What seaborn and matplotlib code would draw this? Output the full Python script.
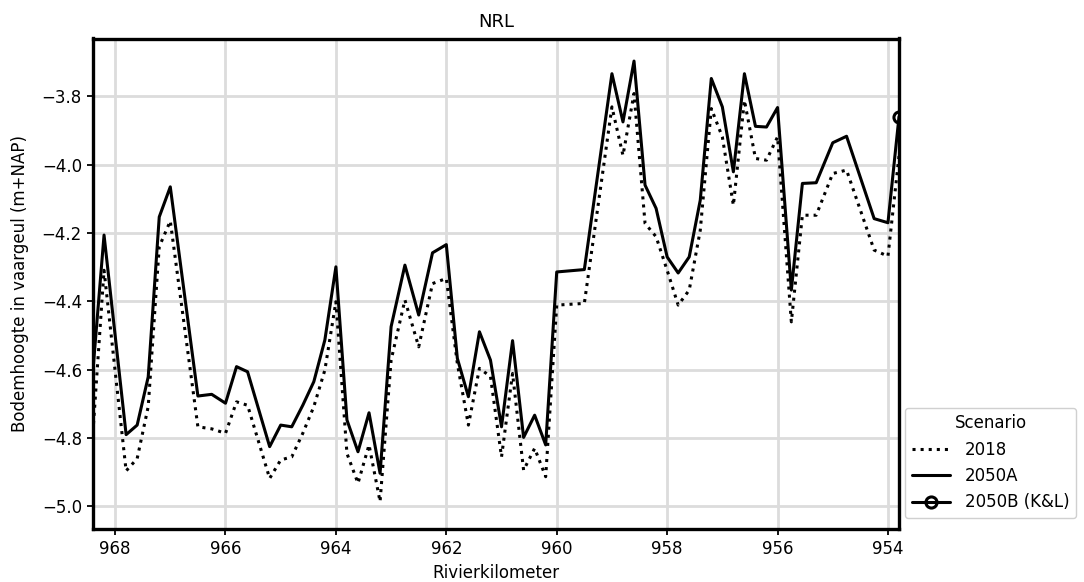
import matplotlib
matplotlib.use("Agg")
import matplotlib.pyplot as plt
import seaborn as sns
import pandas as pd

# River kilometre positions of the bed-level profile
km = [968.4, 968.2, 967.8, 967.6, 967.4, 967.2, 967.0, 966.5, 966.25, 966.0,
      965.8, 965.6, 965.2, 965.0, 964.8, 964.6, 964.4, 964.2, 964.0, 963.8,
      963.6, 963.4, 963.2, 963.0, 962.75, 962.5, 962.25, 962.0, 961.8, 961.6,
      961.4, 961.2, 961.0, 960.8, 960.6, 960.4, 960.2, 960.0, 959.5, 959.0,
      958.8, 958.6, 958.4, 958.2, 958.0, 957.8, 957.6, 957.4, 957.2, 957.0,
      956.8, 956.6, 956.4, 956.2, 956.0, 955.75, 955.55, 955.3, 955.0, 954.75,
      954.25, 954.0, 953.8]

# Bed level in the fairway (m+NAP), scenario 2018
bed_2018 = [-4.78, -4.309, -4.896, -4.86, -4.708, -4.24, -4.165, -4.767, -4.773, -4.786,
            -4.694, -4.704, -4.918, -4.864, -4.855, -4.786, -4.708, -4.601, -4.401, -4.845,
            -4.932, -4.82, -4.986, -4.572, -4.396, -4.533, -4.348, -4.333, -4.582, -4.762,
            -4.596, -4.62, -4.855, -4.611, -4.894, -4.83, -4.913, -4.411, -4.406, -3.831,
            -3.973, -3.792, -4.172, -4.211, -4.309, -4.411, -4.367, -4.192, -3.836, -3.919,
            -4.119, -3.812, -3.982, -3.987, -3.919, -4.46, -4.148, -4.148, -4.026, -4.016,
            -4.25, -4.268, -3.975]

# Bed level in the fairway (m+NAP), scenario 2050A
bed_2050a = [-4.60, -4.206, -4.79, -4.762, -4.621, -4.153, -4.065, -4.677, -4.672, -4.698,
             -4.591, -4.606, -4.825, -4.762, -4.767, -4.704, -4.635, -4.513, -4.299, -4.747,
             -4.84, -4.726, -4.903, -4.474, -4.294, -4.44, -4.258, -4.234, -4.567, -4.679,
             -4.489, -4.572, -4.767, -4.515, -4.798, -4.733, -4.82, -4.314, -4.307, -3.734,
             -3.875, -3.697, -4.06, -4.128, -4.27, -4.317, -4.27, -4.104, -3.748, -3.831,
             -4.021, -3.734, -3.888, -3.89, -3.833, -4.367, -4.055, -4.053, -3.936, -3.917,
             -4.158, -4.17, -3.86]

# Scenario 2050B (K&L): single location
km_2050b = [953.8]
bed_2050b = [-3.86]

sns.set_theme(style="whitegrid", rc={
    "axes.edgecolor": "black",
    "axes.linewidth": 2.4,
    "grid.color": "#dcdcdc",
    "grid.linewidth": 2.0,
    "xtick.bottom": True,
    "ytick.left": True,
    "xtick.color": "black",
    "ytick.color": "black",
    "xtick.major.size": 4.5,
    "ytick.major.size": 4.5,
    "xtick.major.width": 1.3,
    "ytick.major.width": 1.3,
    "font.size": 12,
    "axes.labelsize": 12,
    "axes.titlesize": 13,
    "xtick.labelsize": 12,
    "ytick.labelsize": 12,
    "legend.fontsize": 12,
    "legend.title_fontsize": 12,
    "text.color": "black",
    "axes.labelcolor": "black",
})
plt.rcParams["font.family"] = ["DejaVu Sans"]

df_2018 = pd.DataFrame({"km": km, "hoogte": bed_2018})
df_2050a = pd.DataFrame({"km": km, "hoogte": bed_2050a})
df_2050b = pd.DataFrame({"km": km_2050b, "hoogte": bed_2050b})

fig = plt.figure(figsize=(10.84, 5.82), dpi=100)
ax = fig.add_axes([93 / 1084, 1 - 529 / 582, (899 - 93) / 1084, (529 - 38.5) / 582])

lw = 2.2
sns.lineplot(data=df_2018, x="km", y="hoogte", ax=ax, color="black",
             linestyle=":", linewidth=lw, label="2018")
sns.lineplot(data=df_2050a, x="km", y="hoogte", ax=ax, color="black",
             linestyle="-", linewidth=lw, label="2050A")
sns.lineplot(data=df_2050b, x="km", y="hoogte", ax=ax, color="black",
             linestyle="-", linewidth=lw, marker="o", markersize=8,
             markerfacecolor="none", markeredgecolor="black", markeredgewidth=lw,
             label="2050B (K&L)")

ax.set_xlim(968.4, 953.8)
ax.set_ylim(-5.066, -3.631)
ax.set_xticks([968, 966, 964, 962, 960, 958, 956, 954])
ax.set_yticks([-5.0, -4.8, -4.6, -4.4, -4.2, -4.0, -3.8])
ax.set_xlabel("Rivierkilometer", labelpad=4)
ax.set_ylabel("Bodemhoogte in vaargeul (m+NAP)", labelpad=9)
ax.set_title("NRL", pad=8)
for s in ax.spines.values():
    s.set_color("black")
    s.set_linewidth(2.4)

ax.legend(title="Scenario", loc="lower left",
          bbox_to_anchor=(905 / 1084, 1 - 518 / 582), bbox_transform=fig.transFigure,
          borderaxespad=0, handlelength=2.3, handletextpad=0.9, labelspacing=0.5,
          borderpad=0.4, frameon=True, edgecolor="#d0d0d0", facecolor="white",
          framealpha=1.0)

fig.savefig("out.png", dpi=100)
